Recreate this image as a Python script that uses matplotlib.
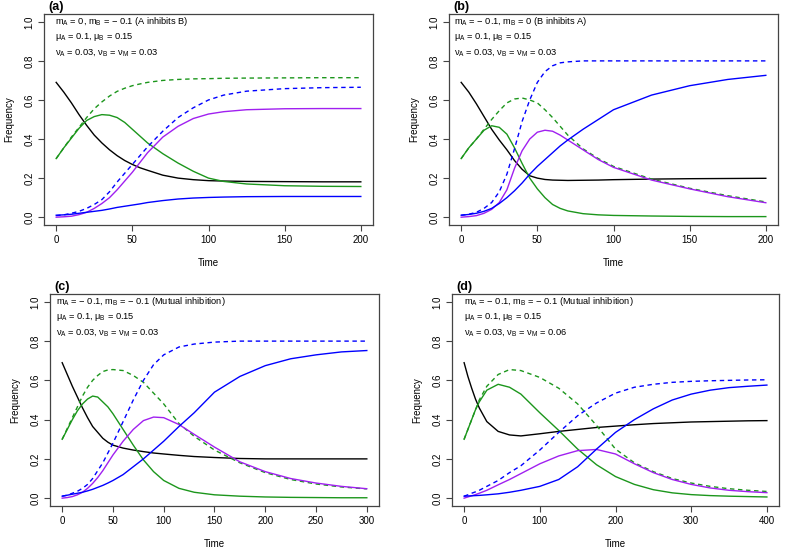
import matplotlib
matplotlib.use("Agg")
import matplotlib.pyplot as plt

plt.rcParams['font.family'] = ['Liberation Sans', 'DejaVu Sans']
plt.rcParams['mathtext.fontset'] = 'custom'
plt.rcParams['mathtext.rm'] = 'Liberation Sans'

# ---- data ----
# (a) A inhibits B
t_a = [0, 5, 10, 15, 20, 25, 30, 35, 40, 45, 50, 55, 60, 70, 80, 90, 100, 110, 125, 150, 175, 200]
black_a = [0.69, 0.64, 0.585, 0.525, 0.47, 0.42, 0.38, 0.345, 0.315, 0.29, 0.27, 0.253, 0.24, 0.215, 0.20, 0.192, 0.187, 0.185, 0.183, 0.182, 0.181, 0.181]
green_a = [0.30, 0.355, 0.405, 0.455, 0.495, 0.515, 0.525, 0.522, 0.51, 0.485, 0.45, 0.415, 0.38, 0.325, 0.277, 0.235, 0.20, 0.183, 0.17, 0.161, 0.158, 0.157]
green_d_a = [0.30, 0.355, 0.41, 0.46, 0.51, 0.555, 0.59, 0.62, 0.644, 0.66, 0.673, 0.682, 0.69, 0.70, 0.705, 0.708, 0.709, 0.711, 0.712, 0.713, 0.714, 0.714]
blue_d_a = [0.008, 0.012, 0.02, 0.03, 0.045, 0.065, 0.09, 0.13, 0.18, 0.225, 0.27, 0.315, 0.36, 0.44, 0.51, 0.56, 0.60, 0.625, 0.645, 0.658, 0.663, 0.665]
purple_a = [0.0, 0.002, 0.005, 0.013, 0.025, 0.045, 0.07, 0.10, 0.14, 0.185, 0.23, 0.28, 0.33, 0.41, 0.465, 0.505, 0.528, 0.54, 0.55, 0.555, 0.556, 0.556]
blue_a = [0.01, 0.012, 0.015, 0.02, 0.025, 0.03, 0.035, 0.042, 0.05, 0.056, 0.062, 0.068, 0.075, 0.085, 0.093, 0.098, 0.101, 0.103, 0.105, 0.106, 0.106, 0.106]

# (b) B inhibits A
t_b = [0, 5, 10, 15, 20, 25, 30, 35, 40, 45, 50, 55, 60, 65, 70, 80, 90, 100, 125, 150, 175, 200]
black_b = [0.69, 0.64, 0.58, 0.515, 0.45, 0.395, 0.345, 0.29, 0.245, 0.212, 0.20, 0.193, 0.19, 0.189, 0.188, 0.189, 0.19, 0.192, 0.195, 0.197, 0.198, 0.199]
green_b = [0.30, 0.355, 0.40, 0.445, 0.468, 0.46, 0.425, 0.355, 0.275, 0.20, 0.145, 0.10, 0.065, 0.045, 0.032, 0.018, 0.012, 0.009, 0.006, 0.004, 0.003, 0.003]
green_d_b = [0.30, 0.355, 0.40, 0.45, 0.50, 0.545, 0.585, 0.605, 0.61, 0.60, 0.585, 0.55, 0.51, 0.465, 0.42, 0.35, 0.30, 0.26, 0.195, 0.148, 0.11, 0.078]
blue_d_b = [0.01, 0.015, 0.025, 0.045, 0.075, 0.13, 0.22, 0.35, 0.49, 0.60, 0.69, 0.745, 0.775, 0.79, 0.795, 0.80, 0.80, 0.80, 0.80, 0.80, 0.80, 0.80]
purple_b = [0.0, 0.003, 0.008, 0.02, 0.04, 0.075, 0.14, 0.25, 0.34, 0.40, 0.435, 0.445, 0.44, 0.42, 0.395, 0.345, 0.295, 0.255, 0.19, 0.145, 0.105, 0.074]
blue_b = [0.01, 0.014, 0.02, 0.03, 0.045, 0.07, 0.10, 0.135, 0.175, 0.22, 0.26, 0.295, 0.33, 0.365, 0.395, 0.45, 0.50, 0.55, 0.625, 0.673, 0.705, 0.726]

# (c) mutual inhibition, vB = vM = 0.03
t_c = [0, 5, 10, 15, 20, 25, 30, 35, 40, 45, 50, 60, 70, 80, 90, 100, 115, 130, 150, 175, 200, 225, 250, 275, 300]
black_c = [0.69, 0.63, 0.57, 0.515, 0.46, 0.41, 0.365, 0.335, 0.305, 0.285, 0.27, 0.255, 0.245, 0.237, 0.23, 0.225, 0.218, 0.212, 0.207, 0.202, 0.20, 0.20, 0.20, 0.20, 0.20]
green_c = [0.30, 0.35, 0.40, 0.445, 0.48, 0.505, 0.52, 0.515, 0.49, 0.465, 0.43, 0.35, 0.27, 0.195, 0.135, 0.09, 0.05, 0.03, 0.017, 0.01, 0.006, 0.004, 0.003, 0.002, 0.002]
green_d_c = [0.30, 0.355, 0.41, 0.465, 0.52, 0.565, 0.60, 0.625, 0.645, 0.653, 0.655, 0.65, 0.625, 0.59, 0.535, 0.48, 0.38, 0.315, 0.245, 0.18, 0.13, 0.095, 0.072, 0.057, 0.047]
blue_d_c = [0.01, 0.015, 0.025, 0.035, 0.05, 0.07, 0.10, 0.14, 0.18, 0.23, 0.28, 0.39, 0.50, 0.60, 0.68, 0.73, 0.77, 0.785, 0.795, 0.80, 0.80, 0.80, 0.80, 0.80, 0.80]
purple_c = [0.0, 0.003, 0.008, 0.017, 0.03, 0.05, 0.075, 0.105, 0.14, 0.18, 0.22, 0.29, 0.35, 0.395, 0.413, 0.41, 0.375, 0.325, 0.26, 0.185, 0.135, 0.10, 0.077, 0.06, 0.048]
blue_c = [0.01, 0.015, 0.02, 0.025, 0.03, 0.037, 0.045, 0.055, 0.065, 0.077, 0.09, 0.12, 0.16, 0.20, 0.245, 0.29, 0.365, 0.435, 0.54, 0.62, 0.675, 0.71, 0.73, 0.745, 0.752]

# (d) mutual inhibition, vB = vM = 0.06
t_d = [0, 5, 10, 15, 20, 30, 45, 60, 75, 100, 125, 150, 175, 200, 225, 250, 275, 300, 325, 350, 375, 400]
black_d = [0.69, 0.62, 0.56, 0.505, 0.46, 0.39, 0.34, 0.322, 0.317, 0.328, 0.34, 0.35, 0.36, 0.367, 0.374, 0.38, 0.384, 0.388, 0.39, 0.392, 0.394, 0.395]
green_d = [0.30, 0.35, 0.40, 0.45, 0.49, 0.55, 0.58, 0.565, 0.53, 0.435, 0.345, 0.25, 0.17, 0.11, 0.07, 0.043, 0.027, 0.018, 0.013, 0.01, 0.008, 0.006]
green_d_d = [0.30, 0.35, 0.40, 0.45, 0.50, 0.57, 0.63, 0.655, 0.65, 0.615, 0.56, 0.48, 0.37, 0.25, 0.18, 0.135, 0.10, 0.077, 0.06, 0.048, 0.04, 0.034]
blue_d_d = [0.01, 0.017, 0.025, 0.032, 0.04, 0.06, 0.09, 0.13, 0.165, 0.245, 0.335, 0.42, 0.485, 0.535, 0.565, 0.58, 0.59, 0.595, 0.598, 0.60, 0.602, 0.603]
purple_d = [0.0, 0.006, 0.012, 0.018, 0.025, 0.04, 0.068, 0.095, 0.125, 0.175, 0.215, 0.242, 0.248, 0.225, 0.175, 0.13, 0.095, 0.07, 0.052, 0.04, 0.033, 0.028]
blue_d = [0.01, 0.011, 0.012, 0.013, 0.014, 0.017, 0.022, 0.03, 0.04, 0.06, 0.095, 0.16, 0.25, 0.335, 0.40, 0.455, 0.50, 0.53, 0.55, 0.563, 0.57, 0.576]

labels = ["(a)", "(b)", "(c)", "(d)"]
notes = [
    ["m$_\\mathregular{A}$ = 0, m$_\\mathregular{B}$ = \u2212 0.1 (A inhibits B)",
     "\u03bc$_\\mathregular{A}$ = 0.1, \u03bc$_\\mathregular{B}$ = 0.15",
     "\u03bd$_\\mathregular{A}$ = 0.03, \u03bd$_\\mathregular{B}$ = \u03bd$_\\mathregular{M}$ = 0.03"],
    ["m$_\\mathregular{A}$ = \u2212 0.1, m$_\\mathregular{B}$ = 0 (B inhibits A)",
     "\u03bc$_\\mathregular{A}$ = 0.1, \u03bc$_\\mathregular{B}$ = 0.15",
     "\u03bd$_\\mathregular{A}$ = 0.03, \u03bd$_\\mathregular{B}$ = \u03bd$_\\mathregular{M}$ = 0.03"],
    ["m$_\\mathregular{A}$ = \u2212 0.1, m$_\\mathregular{B}$ = \u2212 0.1 (Mutual inhibition)",
     "\u03bc$_\\mathregular{A}$ = 0.1, \u03bc$_\\mathregular{B}$ = 0.15",
     "\u03bd$_\\mathregular{A}$ = 0.03, \u03bd$_\\mathregular{B}$ = \u03bd$_\\mathregular{M}$ = 0.03"],
    ["m$_\\mathregular{A}$ = \u2212 0.1, m$_\\mathregular{B}$ = \u2212 0.1 (Mutual inhibition)",
     "\u03bc$_\\mathregular{A}$ = 0.1, \u03bc$_\\mathregular{B}$ = 0.15",
     "\u03bd$_\\mathregular{A}$ = 0.03, \u03bd$_\\mathregular{B}$ = \u03bd$_\\mathregular{M}$ = 0.06"],
]
xticks = [[0, 50, 100, 150, 200], [0, 50, 100, 150, 200],
          [0, 50, 100, 150, 200, 250, 300], [0, 100, 200, 300, 400]]

panels = [
    (t_a, black_a, green_a, green_d_a, blue_d_a, purple_a, blue_a),
    (t_b, black_b, green_b, green_d_b, blue_d_b, purple_b, blue_b),
    (t_c, black_c, green_c, green_d_c, blue_d_c, purple_c, blue_c),
    (t_d, black_d, green_d, green_d_d, blue_d_d, purple_d, blue_d),
]

W, H = 787, 551
# axes boxes in pixels: left, top, right, bottom
boxes = [(44, 14, 373, 225), (449, 14, 778, 225), (50, 294, 379, 506), (452, 294, 779, 506)]
text_dx = [11, 5, 6, 12]

GREEN = '#1c961c'
BLUE = '#0000ff'
PURPLE = '#a020f0'
DASH = (3.2, 2.6)

fig = plt.figure(figsize=(W / 100, H / 100), dpi=100)

for i, (t, blk, grn, grn_d, blu_d, pur, blu) in enumerate(panels):
    l, tp, r, b = boxes[i]
    ax = fig.add_axes([l / W, 1 - b / H, (r - l) / W, (b - tp) / H])
    bw, bh = r - l, b - tp

    ax.plot(t, blk, color='black', lw=1.0)
    ax.plot(t, grn, color=GREEN, lw=1.0)
    ax.plot(t, grn_d, color=GREEN, lw=1.0, dashes=DASH)
    ax.plot(t, blu_d, color=BLUE, lw=1.0, dashes=DASH)
    ax.plot(t, pur, color=PURPLE, lw=1.0)
    ax.plot(t, blu, color=BLUE, lw=1.0)

    tmax = t[-1]
    ax.set_xlim(-0.04 * tmax, 1.04 * tmax)
    ax.set_ylim(-0.04, 1.04)
    ax.set_xticks(xticks[i])
    ax.set_yticks([0.0, 0.2, 0.4, 0.6, 0.8, 1.0])
    ax.set_yticklabels(["0.0", "0.2", "0.4", "0.6", "0.8", "1.0"], rotation=90, va='center')
    ax.tick_params(length=4, width=0.8, labelsize=7, color='#444444', pad=3)
    for sp in ax.spines.values():
        sp.set_color('#444444')
        sp.set_linewidth(0.9)

    ax.set_xlabel("Time", fontsize=7)
    ax.set_ylabel("Frequency", fontsize=7)
    ax.xaxis.set_label_coords(0.5, -33 / bh)
    ax.yaxis.set_label_coords(-30 / bw, 0.5)

    ax.text(4 / bw, 1 + 7 / bh, labels[i], transform=ax.transAxes,
            fontsize=9, fontweight='bold', ha='left', va='center')
    for k, s in enumerate(notes[i]):
        ax.text(text_dx[i] / bw, 1 - (8 + 15.3 * k) / bh, s, transform=ax.transAxes,
                fontsize=6.7, ha='left', va='center')

fig.savefig("out.png", dpi=100)
